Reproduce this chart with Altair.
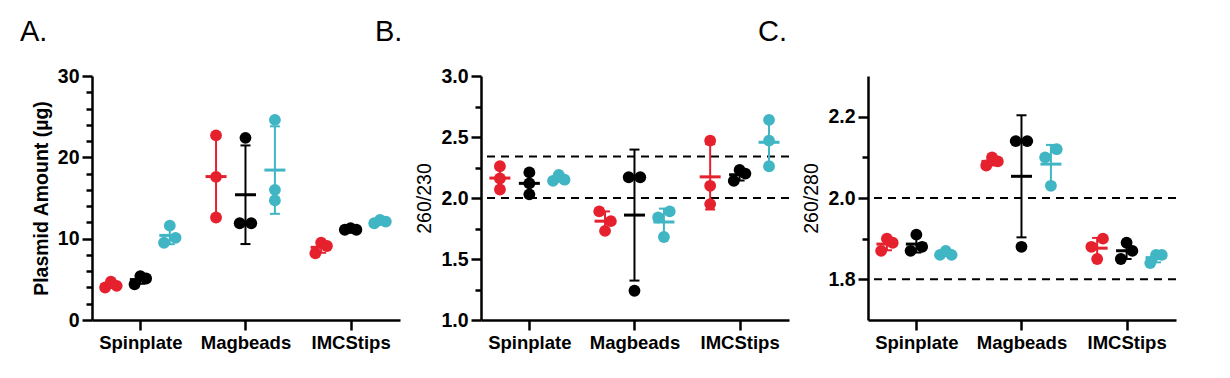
import json
import altair as alt
import pandas as pd

# ---------------- data ----------------
categories = ["Spinplate", "Magbeads", "IMCStips"]
groups = ["red", "black", "cyan"]
group_colors = ["#E6212E", "#000000", "#40B5C4"]
panel_letters = ["A.", "B.", "C."]

# Panel A: Plasmid amount (µg); per group, per method, replicate values
a_red = [[4.0, 4.7, 4.2], [22.7, 17.6, 12.6], [8.2, 9.5, 9.1]]
a_black = [[4.4, 5.4, 5.1], [22.4, 11.9, 11.9], [11.1, 11.3, 11.1]]
a_cyan = [[9.5, 11.6, 10.1], [24.6, 16.0, 14.7], [11.9, 12.3, 12.1]]
a_ticks = [0, 2, 4, 6, 8, 10, 12, 14, 16, 18, 20, 22, 24, 26, 28, 30]
a_labels = [0, 10, 20, 30]

# Panel B: 260/230
b_red = [[2.26, 2.16, 2.07], [1.89, 1.81, 1.73], [2.47, 2.10, 1.95]]
b_black = [[2.21, 2.12, 2.03], [2.17, 1.24, 2.17], [2.14, 2.23, 2.20]]
b_cyan = [[2.14, 2.19, 2.15], [1.84, 1.89, 1.68], [2.64, 2.47, 2.26]]
b_ticks = [1.0, 1.25, 1.5, 1.75, 2.0, 2.25, 2.5, 2.75, 3.0]
b_labels = [1.0, 1.5, 2.0, 2.5, 3.0]
b_dashed = [2.34, 2.0]

# Panel C: 260/280
c_red = [[1.87, 1.90, 1.89], [2.08, 2.10, 2.09], [1.85, 1.88, 1.90]]
c_black = [[1.87, 1.91, 1.88], [2.14, 1.88, 2.14], [1.85, 1.89, 1.87]]
c_cyan = [[1.86, 1.87, 1.86], [2.10, 2.12, 2.03], [1.84, 1.86, 1.86]]
c_ticks = [1.8, 1.9, 2.0, 2.1, 2.2]
c_labels = [1.8, 2.0, 2.2]
c_dashed = [2.0, 1.8]

# ---------------- style ----------------
FONT = "Liberation Sans"
W, H = 308, 244
XDOM = [-0.46, 2.47]
GROUP_SHIFT = [-0.28, 0.0, 0.28]
JIT = 0.055


def spread_slots(vals, thr):
    n = len(vals)
    parent = list(range(n))

    def find(i):
        while parent[i] != i:
            i = parent[i]
        return i

    for i in range(n):
        for j in range(i + 1, n):
            if abs(vals[i] - vals[j]) < thr:
                parent[find(j)] = find(i)
    clusters = {}
    for i in range(n):
        clusters.setdefault(find(i), []).append(i)
    slots = [0.0] * n
    for members in clusters.values():
        m = len(members)
        for k, idx in enumerate(members):
            slots[idx] = 0.0 if m == 1 else (k / (m - 1) - 0.5) * 2
    return slots


def make_panel(series, ydom, ticks, labels, fmt, ytitle, tweight, dashed, letters):
    rows = []
    thr = 0.04 * (ydom[1] - ydom[0])
    for gi, g in enumerate(groups):
        for ci, c in enumerate(categories):
            v = series[gi][ci]
            slots = spread_slots(v, thr)
            for k, val in enumerate(v):
                xc = ci + GROUP_SHIFT[gi]
                rows.append(dict(cat=c, grp=g, value=val, xc=xc, xp=xc + slots[k] * JIT))
    df = pd.DataFrame(rows)

    xscale = alt.Scale(domain=XDOM, nice=False, zero=False)
    yscale = alt.Scale(domain=ydom, nice=False, zero=False)
    cscale = alt.Scale(domain=groups, range=group_colors)
    major_test = "indexof(%s, datum.value) >= 0" % json.dumps(labels)

    xaxis = alt.Axis(
        values=[0, 1, 2],
        labelExpr="%s[datum.value]" % json.dumps(categories),
        title=None, grid=False, tickSize=10, labelFontSize=18.5, labelPadding=3,
        labelFlush=False,
    )
    yaxis = alt.Axis(
        values=ticks, format=fmt, grid=False,
        labelExpr="%s ? datum.label : ''" % major_test,
        tickSize={"condition": {"test": major_test, "value": 10}, "value": 6},
        labelFontSize=19.5, labelPadding=3, title=ytitle, titleFontSize=19.5,
        titleFontWeight=tweight, titlePadding=6,
    )

    def X(f):
        return alt.X(f, scale=xscale, axis=xaxis, title=None)

    def Y(f):
        return alt.Y(f, scale=yscale, axis=yaxis, title=ytitle)

    col = alt.Color("grp:N", scale=cscale, legend=None)
    base = alt.Chart(df)
    points = base.mark_circle(size=140, opacity=1).encode(
        x=X("xp:Q"), y=Y("value:Q"), color=col,
    )
    stats = base.transform_aggregate(
        mean="mean(value)", sd="stdev(value)", groupby=["xc", "grp"]
    ).transform_calculate(lo="datum.mean - datum.sd", hi="datum.mean + datum.sd")
    err = stats.mark_rule(strokeWidth=2, opacity=1).encode(
        x=X("xc:Q"), y=Y("lo:Q"), y2="hi:Q", color=col
    )
    cap_lo = stats.mark_tick(orient="horizontal", size=10, thickness=2, opacity=1).encode(
        x=X("xc:Q"), y=Y("lo:Q"), color=col
    )
    cap_hi = stats.mark_tick(orient="horizontal", size=10, thickness=2, opacity=1).encode(
        x=X("xc:Q"), y=Y("hi:Q"), color=col
    )
    mean = stats.mark_tick(orient="horizontal", size=21, thickness=3, opacity=1).encode(
        x=X("xc:Q"), y=Y("mean:Q"), color=col
    )
    layers = []
    if dashed:
        layers.append(
            alt.Chart(pd.DataFrame({"ref": dashed})).mark_rule(
                strokeDash=[8, 6], strokeWidth=2, color="black"
            ).encode(y=Y("ref:Q"))
        )
    layers += [err, cap_lo, cap_hi, mean, points]
    for txt, px in letters:
        layers.append(
            alt.Chart(pd.DataFrame({"t": [txt]})).mark_text(
                font=FONT, fontSize=29, align="left", baseline="alphabetic", color="black"
            ).encode(x=alt.value(px), y=alt.value(-35), text="t:N")
        )
    return alt.layer(*layers).properties(width=W, height=H)


pa = make_panel([a_red, a_black, a_cyan], [0, 30], a_ticks, a_labels, "d",
                "Plasmid Amount (µg)", "bold", None,
                [(panel_letters[0], -72), (panel_letters[1], 283)])
pb = make_panel([b_red, b_black, b_cyan], [1.0, 3.0], b_ticks, b_labels, ".1f",
                "260/230", "normal", b_dashed, [(panel_letters[2], 277)])
pc = make_panel([c_red, c_black, c_cyan], [1.7, 2.3], c_ticks, c_labels, ".1f",
                "260/280", "normal", c_dashed, [])

chart = alt.hconcat(pa, pb, pc, spacing=11).properties(
    padding={"left": 12, "top": 10, "right": 5, "bottom": 5}
).configure_view(stroke=None).configure_axis(
    domainColor="black", domainWidth=2.5, tickColor="black", tickWidth=2.5,
    labelColor="black", labelFont=FONT, labelFontWeight="bold",
    titleFont=FONT, titleColor="black",
)

chart.save("out.html", embed_options={"renderer": "svg", "actions": False})
